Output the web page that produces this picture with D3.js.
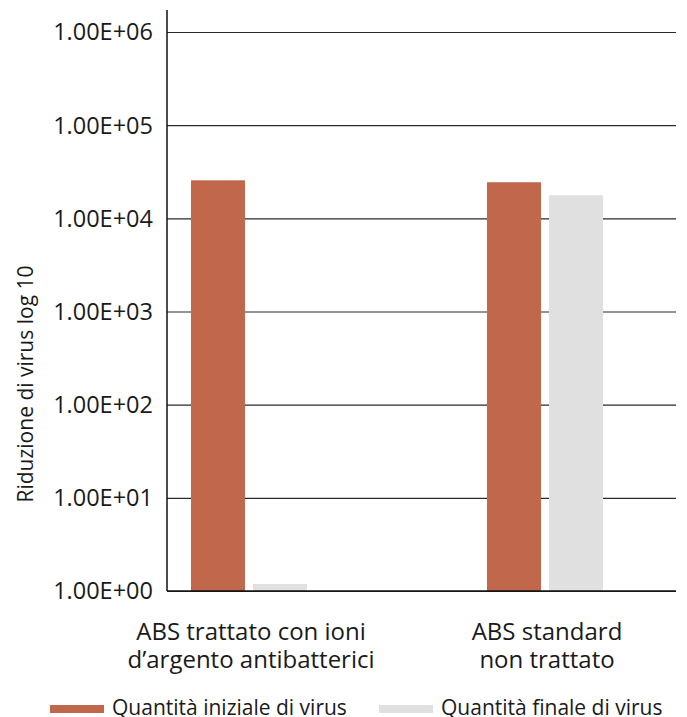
<!DOCTYPE html>
<html>
<head>
<meta charset="utf-8">
<script src="https://cdn.jsdelivr.net/npm/d3@7"></script>
<style>
  body { margin: 0; background: #fff; }
  text { font-family: "Open Sans", sans-serif; fill: #1a1a1a; }
</style>
</head>
<body>
<svg id="chart" width="687" height="717"></svg>
<script>
// chart data
const categories = ['ABS trattato con ioni\nd\u2019argento antibatterici', 'ABS standard\nnon trattato'];
const seriesNames = ['Quantità iniziale di virus', 'Quantità finale di virus'];
const initialVirus = [25600, 24400];
const finalVirus = [1.19, 17700];
const tickValues = [1, 10, 100, 1000, 10000, 100000, 1000000];
const tickLabels = ['1.00E+00', '1.00E+01', '1.00E+02', '1.00E+03', '1.00E+04', '1.00E+05', '1.00E+06'];
const yTitle = 'Riduzione di virus log 10';

const cs = {
  palette: ['#c1674c', '#e0e0e0'],
  plot: { left: 167, right: 676, top: 10, bottom: 591 },
};

const svg = d3.select('#chart');
const series = [initialVirus, finalVirus];

const y = d3.scaleLog().domain([1, 1e6]).range([cs.plot.bottom, 32]);
const x0 = d3.scaleBand().domain(categories).range([101, 693]).padding(0);
const x1 = d3.scaleBand().domain(seriesNames).range([90, 206]).paddingInner(0.13).paddingOuter(0);

// gridlines
const grid = d3.axisLeft(y).tickValues(tickValues).tickSize(-(cs.plot.right - cs.plot.left)).tickFormat('');
svg.append('g')
  .attr('transform', `translate(${cs.plot.left},0)`)
  .call(grid)
  .call(g => g.select('.domain').remove())
  .call(g => g.selectAll('line').attr('stroke', '#2a2a2a').attr('stroke-width', 1.2));

// bars
categories.forEach((c, i) => {
  svg.append('g')
    .attr('transform', `translate(${x0(c)},0)`)
    .selectAll('rect')
    .data(seriesNames.map((s, j) => ({ s, v: series[j][i], j })))
    .join('rect')
    .attr('x', d => x1(d.s))
    .attr('width', x1.bandwidth())
    .attr('y', d => y(d.v))
    .attr('height', d => y(1) - y(d.v))
    .attr('fill', d => cs.palette[d.j]);
});

// axes lines
svg.append('line')
  .attr('x1', cs.plot.left).attr('x2', cs.plot.left)
  .attr('y1', cs.plot.top).attr('y2', cs.plot.bottom)
  .attr('stroke', '#111').attr('stroke-width', 1.5);
svg.append('line')
  .attr('x1', cs.plot.left).attr('x2', cs.plot.right)
  .attr('y1', cs.plot.bottom).attr('y2', cs.plot.bottom)
  .attr('stroke', '#111').attr('stroke-width', 1.5);

// tick labels
svg.append('g').selectAll('text')
  .data(tickValues)
  .join('text')
  .attr('x', 153)
  .attr('y', d => y(d))
  .attr('dy', '0.36em')
  .attr('text-anchor', 'end')
  .attr('font-size', 23.5)
  .text((d, i) => tickLabels[i]);

// y title
svg.append('text')
  .attr('transform', 'translate(33,384) rotate(-90)')
  .attr('text-anchor', 'middle')
  .attr('font-size', 21)
  .text(yTitle);

// category labels
categories.forEach(c => {
  const t = svg.append('text')
    .attr('text-anchor', 'middle')
    .attr('font-size', 24)
    .attr('transform', `translate(${x0(c) + x0.bandwidth() / 2 + 2},640)`);
  c.split('\n').forEach((line, k) => {
    t.append('tspan').attr('x', 0).attr('y', k * 28).text(line);
  });
});

// legend
const legendX = [50, 379];
const lg = svg.append('g').selectAll('g')
  .data(seriesNames)
  .join('g')
  .attr('transform', (d, i) => `translate(${legendX[i]},705)`);
lg.append('rect').attr('width', 54).attr('height', 8).attr('fill', (d, i) => cs.palette[i]);
lg.append('text').attr('x', 62).attr('y', 10).attr('font-size', 21).text(d => d);
</script>
</body>
</html>
